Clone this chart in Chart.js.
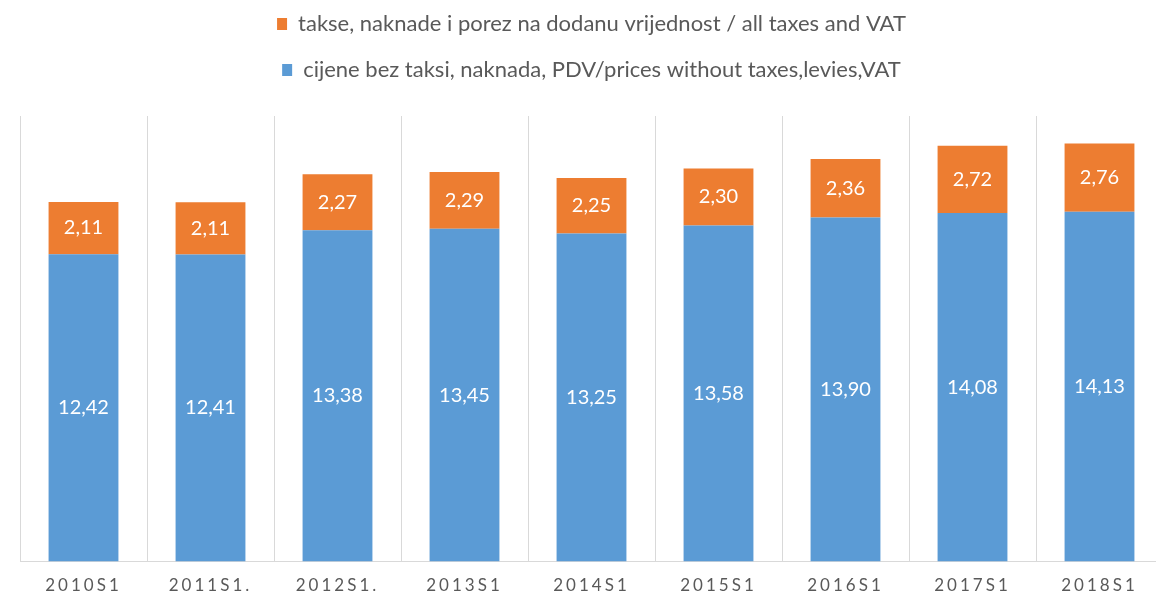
<!DOCTYPE html>
<html>
<head>
<meta charset="utf-8">
<script src="https://cdn.jsdelivr.net/npm/chart.js@4.4.1/dist/chart.umd.min.js"></script>
<style>
    html, body { margin: 0; padding: 0; background: #ffffff; overflow: hidden; }
    #wrap { position: absolute; left: 0; top: -11px; width: 1165px; height: 621px; }
</style>
</head>
<body>
<div id="wrap"><canvas id="graficoCijene"></canvas></div>
<script>
// podaci
const kategorije = ['2010S1', '2011S1.', '2012S1.', '2013S1', '2014S1', '2015S1', '2016S1', '2017S1', '2018S1'];
const cijeneBezTaksi = [12.42, 12.41, 13.38, 13.45, 13.25, 13.58, 13.90, 14.08, 14.13];
const takseIPdv = [2.11, 2.11, 2.27, 2.29, 2.25, 2.30, 2.36, 2.72, 2.76];
const nazivCijene = 'cijene bez taksi, naknada, PDV/prices without taxes,levies,VAT';
const nazivTakse = 'takse, naknade i porez na dodanu vrijednost / all taxes and VAT';

function formatBroj(v) {
    return v.toFixed(2).replace('.', ',');
}

// oznake vrijednosti u sredini svakog segmenta
const oznakePlugin = {
    id: 'oznake',
    afterDatasetsDraw: function (chart) {
        const ctx = chart.ctx;
        ctx.save();
        ctx.font = '20px Lato';
        ctx.fillStyle = '#ffffff';
        ctx.textAlign = 'center';
        ctx.textBaseline = 'middle';
        chart.data.datasets.forEach(function (ds, i) {
            const meta = chart.getDatasetMeta(i);
            meta.data.forEach(function (bar, j) {
                ctx.fillText(formatBroj(ds.data[j]), bar.x, (bar.y + bar.base) / 2);
            });
        });
        ctx.restore();
    }
};

// razmak izmedju slova na osi x
const razmakPlugin = {
    id: 'razmak',
    beforeDraw: function (chart) {
        const xs = chart.scales.x;
        if (xs._razmak) return;
        const orig = xs.drawLabels;
        xs.drawLabels = function (area) {
            const c = this.ctx;
            c.save();
            c.letterSpacing = '3px';
            orig.call(this, area);
            c.restore();
        };
        xs._razmak = true;
    }
};

// dodatni prostor ispod legende
const legendaRazmakPlugin = {
    id: 'legendaRazmak',
    beforeLayout: function (chart) {
        const lg = chart.legend;
        if (!lg || lg._razmak) return;
        const origFit = lg.fit;
        lg.fit = function () {
            origFit.call(this);
            this.height += 25;
        };
        lg._razmak = true;
    }
};

const ctx = document.getElementById('graficoCijene').getContext('2d');

new Chart(ctx, {
    type: 'bar',
    data: {
        labels: kategorije,
        datasets: [{
            label: nazivCijene,
            data: cijeneBezTaksi,
            backgroundColor: '#5b9bd5',
            barPercentage: 0.55,
            categoryPercentage: 1
        },
        {
            label: nazivTakse,
            data: takseIPdv,
            backgroundColor: '#ed7d31',
            barPercentage: 0.55,
            categoryPercentage: 1
        }]
    },
    options: {
        responsive: true,
        maintainAspectRatio: false,
        animation: false,
        layout: {
            padding: { left: 20, right: 2, top: 0, bottom: 0 }
        },
        scales: {
            x: {
                stacked: true,
                grid: {
                    color: '#d9d9d9',
                    lineWidth: 1,
                    drawTicks: false
                },
                border: { color: '#d9d9d9' },
                ticks: {
                    color: '#595959',
                    padding: 14,
                    font: { family: 'Lato', size: 17 }
                }
            },
            y: {
                stacked: true,
                display: false,
                min: 0,
                max: 18
            }
        },
        plugins: {
            legend: {
                position: 'top',
                reverse: true,
                labels: {
                    color: '#595959',
                    boxWidth: 10,
                    boxHeight: 12,
                    padding: 24,
                    font: { family: 'Lato', size: 22 }
                }
            },
            tooltip: { enabled: false }
        }
    },
    plugins: [oznakePlugin, razmakPlugin, legendaRazmakPlugin]
});
</script>
</body>
</html>
